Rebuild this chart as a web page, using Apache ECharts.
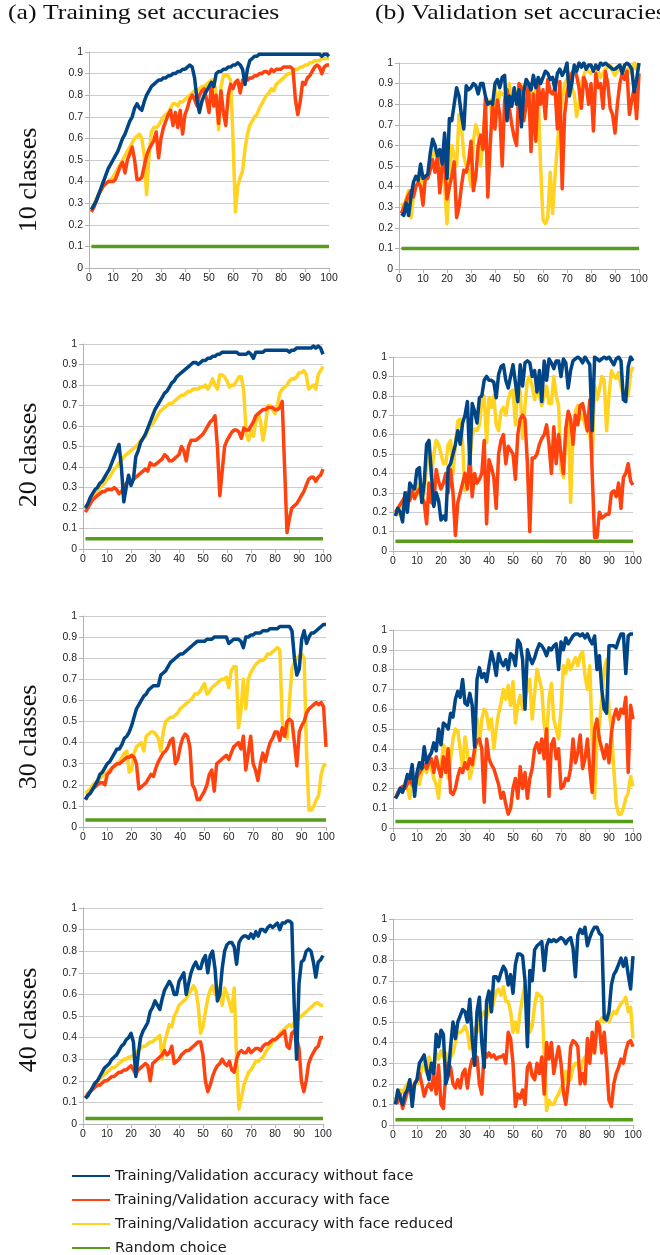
<!DOCTYPE html>
<html><head><meta charset="utf-8">
<script src="https://cdn.jsdelivr.net/npm/echarts@6/dist/echarts.min.js"></script>
<style>html,body{margin:0;padding:0;background:#fff}#c{width:660px;height:1255px}</style>
</head><body><div id="c"></div><script>
const epochs = Array.from({length:100},(_,i)=>i+1);
const xTicks = [0,10,20,30,40,50,60,70,80,90,100];
const seriesNames = ['Training/Validation accuracy without face','Training/Validation accuracy with face','Training/Validation accuracy with face reduced','Random choice'];
const columnTitles = ['(a) Training set accuracies','(b) Validation set accuracies'];
const rowLabels = ['10 classes','20 classes','30 classes','40 classes'];
const randomLevels = [0.1, 0.05, 0.033, 0.025];

const train10Blue = [0.27,0.29,0.31,0.34,0.37,0.40,0.43,0.46,0.48,0.50,0.52,0.54,0.57,0.60,0.62,0.65,0.68,0.70,0.74,0.76,0.74,0.73,0.77,0.80,0.82,0.84,0.85,0.86,0.87,0.87,0.88,0.88,0.89,0.89,0.90,0.90,0.91,0.91,0.92,0.92,0.93,0.94,0.93,0.88,0.78,0.72,0.77,0.80,0.82,0.84,0.86,0.84,0.90,0.91,0.91,0.92,0.92,0.93,0.93,0.94,0.94,0.95,0.94,0.92,0.85,0.92,0.96,0.97,0.98,0.98,0.99,0.99,0.99,0.99,0.99,0.99,0.99,0.99,0.99,0.99,0.99,0.99,0.99,0.99,0.99,0.99,0.99,0.99,0.99,0.99,0.99,0.99,0.99,0.99,0.99,0.99,0.98,0.99,0.99,0.98];
const train10Orange = [0.26,0.28,0.31,0.34,0.36,0.38,0.39,0.40,0.40,0.40,0.41,0.44,0.47,0.49,0.44,0.50,0.53,0.56,0.50,0.41,0.41,0.42,0.47,0.52,0.55,0.57,0.59,0.63,0.51,0.60,0.65,0.68,0.71,0.73,0.66,0.72,0.65,0.73,0.62,0.71,0.74,0.78,0.80,0.78,0.75,0.80,0.82,0.83,0.78,0.72,0.85,0.75,0.80,0.67,0.82,0.72,0.66,0.80,0.85,0.83,0.86,0.87,0.81,0.87,0.87,0.87,0.88,0.88,0.89,0.89,0.90,0.90,0.91,0.91,0.90,0.92,0.91,0.92,0.92,0.92,0.93,0.93,0.93,0.93,0.92,0.78,0.71,0.77,0.86,0.85,0.88,0.89,0.91,0.93,0.94,0.93,0.90,0.93,0.94,0.94];
const train10Yellow = [0.27,0.29,0.32,0.34,0.36,0.38,0.39,0.40,0.41,0.42,0.44,0.46,0.48,0.50,0.52,0.54,0.56,0.58,0.60,0.61,0.62,0.60,0.52,0.34,0.52,0.63,0.65,0.65,0.66,0.68,0.70,0.71,0.72,0.74,0.76,0.76,0.75,0.77,0.77,0.78,0.79,0.80,0.81,0.82,0.82,0.83,0.84,0.84,0.85,0.86,0.87,0.87,0.80,0.64,0.84,0.89,0.89,0.89,0.87,0.60,0.26,0.38,0.42,0.45,0.55,0.62,0.66,0.68,0.70,0.71,0.74,0.76,0.78,0.80,0.81,0.83,0.82,0.85,0.86,0.87,0.88,0.89,0.90,0.90,0.91,0.92,0.92,0.93,0.93,0.94,0.94,0.95,0.95,0.96,0.96,0.96,0.97,0.97,0.97,0.97];

const val10Blue = [0.27,0.26,0.32,0.26,0.35,0.42,0.45,0.43,0.51,0.44,0.45,0.46,0.56,0.63,0.60,0.55,0.58,0.51,0.66,0.44,0.73,0.72,0.80,0.88,0.84,0.75,0.68,0.89,0.87,0.88,0.90,0.89,0.85,0.90,0.90,0.84,0.80,0.81,0.80,0.90,0.92,0.88,0.93,0.94,0.72,0.84,0.79,0.88,0.80,0.87,0.69,0.86,0.92,0.90,0.87,0.94,0.88,0.93,0.90,0.93,0.96,0.95,0.92,0.93,0.87,0.95,0.97,0.94,0.96,1.00,0.84,0.90,0.99,0.96,1.00,0.98,1.00,0.97,0.99,0.99,0.96,0.99,0.97,1.00,0.99,1.00,0.99,0.98,0.97,0.97,0.98,0.99,0.95,0.99,1.00,0.99,0.97,0.86,0.92,1.00];
const val10Orange = [0.27,0.30,0.33,0.36,0.38,0.35,0.40,0.42,0.40,0.31,0.45,0.44,0.48,0.53,0.47,0.55,0.37,0.50,0.52,0.34,0.40,0.45,0.52,0.25,0.30,0.40,0.48,0.47,0.52,0.62,0.38,0.45,0.60,0.65,0.58,0.83,0.35,0.60,0.80,0.68,0.82,0.75,0.50,0.82,0.87,0.78,0.70,0.64,0.60,0.90,0.88,0.72,0.80,0.90,0.57,0.85,0.62,0.90,0.80,0.87,0.73,0.92,0.86,0.85,0.88,0.68,0.91,0.39,0.75,0.85,0.92,0.95,0.97,0.94,0.88,0.78,0.93,0.90,0.80,0.90,0.67,0.95,0.88,0.90,0.78,0.96,0.90,0.78,0.75,0.66,0.80,0.90,0.95,0.92,0.96,0.75,0.82,0.88,0.73,0.95];
const val10Yellow = [0.32,0.30,0.34,0.38,0.25,0.35,0.40,0.42,0.44,0.40,0.43,0.45,0.50,0.54,0.58,0.55,0.50,0.45,0.40,0.22,0.45,0.60,0.55,0.50,0.75,0.70,0.55,0.50,0.48,0.40,0.62,0.70,0.66,0.50,0.65,0.78,0.80,0.82,0.70,0.88,0.78,0.86,0.85,0.84,0.87,0.90,0.80,0.85,0.86,0.86,0.88,0.89,0.86,0.83,0.88,0.76,0.89,0.85,0.50,0.24,0.22,0.25,0.47,0.27,0.45,0.60,0.75,0.82,0.90,0.92,0.95,0.88,0.85,0.74,0.80,0.90,0.94,0.97,0.96,0.95,0.97,0.98,0.96,0.93,0.95,0.97,0.98,0.99,0.96,0.94,0.96,0.97,0.98,0.98,0.93,0.99,0.95,1.00,0.97,1.00];

const train20Blue = [0.20,0.22,0.25,0.27,0.29,0.30,0.32,0.33,0.35,0.37,0.39,0.42,0.45,0.48,0.51,0.40,0.23,0.30,0.36,0.31,0.34,0.45,0.48,0.52,0.54,0.56,0.59,0.62,0.65,0.68,0.70,0.72,0.74,0.76,0.77,0.79,0.81,0.82,0.84,0.85,0.86,0.87,0.88,0.89,0.90,0.91,0.91,0.90,0.91,0.92,0.92,0.93,0.93,0.94,0.94,0.95,0.95,0.96,0.96,0.96,0.96,0.96,0.96,0.96,0.95,0.95,0.95,0.95,0.96,0.95,0.93,0.96,0.96,0.96,0.96,0.97,0.97,0.97,0.97,0.97,0.97,0.97,0.97,0.97,0.97,0.96,0.97,0.97,0.98,0.98,0.98,0.98,0.98,0.98,0.98,0.99,0.98,0.99,0.98,0.95];
const train20Orange = [0.18,0.20,0.22,0.24,0.25,0.26,0.27,0.28,0.28,0.29,0.29,0.29,0.30,0.29,0.27,0.28,0.30,0.32,0.33,0.33,0.34,0.35,0.36,0.37,0.38,0.39,0.38,0.42,0.41,0.41,0.42,0.43,0.44,0.46,0.45,0.43,0.43,0.44,0.45,0.46,0.50,0.48,0.43,0.50,0.53,0.53,0.53,0.54,0.55,0.56,0.58,0.60,0.62,0.63,0.65,0.50,0.26,0.38,0.50,0.53,0.55,0.57,0.58,0.58,0.57,0.54,0.59,0.58,0.58,0.60,0.62,0.65,0.66,0.67,0.68,0.68,0.69,0.69,0.69,0.68,0.68,0.69,0.72,0.40,0.08,0.15,0.20,0.21,0.22,0.24,0.26,0.28,0.31,0.34,0.35,0.35,0.33,0.35,0.36,0.39];
const train20Yellow = [0.20,0.22,0.24,0.25,0.27,0.28,0.30,0.31,0.32,0.34,0.35,0.37,0.39,0.40,0.42,0.43,0.45,0.46,0.47,0.48,0.49,0.50,0.51,0.53,0.54,0.55,0.58,0.60,0.61,0.63,0.65,0.67,0.68,0.69,0.70,0.71,0.71,0.72,0.73,0.74,0.75,0.75,0.76,0.77,0.77,0.78,0.78,0.78,0.79,0.79,0.80,0.78,0.80,0.83,0.80,0.78,0.85,0.85,0.84,0.82,0.79,0.80,0.80,0.82,0.84,0.84,0.77,0.56,0.53,0.58,0.55,0.62,0.66,0.62,0.53,0.60,0.70,0.70,0.68,0.66,0.70,0.76,0.78,0.79,0.80,0.82,0.83,0.83,0.84,0.86,0.86,0.87,0.85,0.78,0.79,0.80,0.78,0.85,0.87,0.89];

const val20Blue = [0.18,0.22,0.20,0.15,0.30,0.20,0.35,0.33,0.32,0.42,0.43,0.25,0.35,0.55,0.57,0.40,0.23,0.30,0.26,0.16,0.18,0.16,0.43,0.45,0.50,0.55,0.62,0.55,0.66,0.70,0.77,0.45,0.76,0.72,0.66,0.79,0.80,0.88,0.90,0.88,0.88,0.87,0.79,0.91,0.95,0.96,0.88,0.84,0.90,0.96,0.87,0.77,0.96,0.85,0.97,0.98,0.97,0.90,0.93,0.82,0.93,0.77,0.98,0.88,0.99,0.97,0.94,0.98,0.98,0.90,0.99,0.97,0.84,0.93,0.98,0.99,1.00,0.99,0.97,1.00,0.98,0.96,0.62,1.00,0.99,0.98,0.99,1.00,0.99,1.00,0.98,0.96,0.99,1.00,0.98,0.78,0.77,0.95,1.00,0.98];
const val20Orange = [0.20,0.22,0.24,0.26,0.28,0.30,0.26,0.31,0.27,0.30,0.32,0.28,0.25,0.14,0.35,0.25,0.24,0.42,0.36,0.32,0.35,0.40,0.30,0.42,0.30,0.08,0.25,0.30,0.35,0.40,0.32,0.50,0.28,0.40,0.35,0.37,0.40,0.57,0.14,0.47,0.43,0.38,0.22,0.50,0.57,0.60,0.45,0.54,0.52,0.50,0.37,0.60,0.68,0.70,0.68,0.45,0.10,0.48,0.48,0.50,0.55,0.58,0.60,0.65,0.55,0.40,0.64,0.45,0.60,0.50,0.40,0.63,0.72,0.68,0.55,0.70,0.65,0.75,0.76,0.70,0.62,0.78,0.40,0.07,0.07,0.20,0.17,0.18,0.19,0.19,0.30,0.31,0.28,0.35,0.22,0.38,0.40,0.45,0.36,0.34];
const val20Yellow = [0.20,0.19,0.21,0.24,0.27,0.30,0.28,0.32,0.28,0.35,0.30,0.26,0.30,0.44,0.50,0.38,0.50,0.57,0.55,0.50,0.45,0.45,0.55,0.57,0.40,0.55,0.67,0.68,0.55,0.31,0.35,0.45,0.60,0.63,0.62,0.65,0.77,0.80,0.56,0.79,0.74,0.80,0.65,0.62,0.72,0.74,0.70,0.78,0.82,0.83,0.65,0.85,0.82,0.58,0.75,0.88,0.90,0.85,0.78,0.84,0.80,0.75,0.80,0.85,0.76,0.76,0.90,0.80,0.75,0.42,0.38,0.60,0.70,0.25,0.60,0.72,0.75,0.68,0.70,0.65,0.62,0.60,0.48,0.85,0.78,0.83,0.90,0.88,0.62,0.80,0.93,0.90,0.89,0.92,0.85,0.80,0.83,0.80,0.92,0.95];

const train30Blue = [0.13,0.15,0.16,0.18,0.20,0.22,0.25,0.26,0.28,0.30,0.31,0.33,0.35,0.37,0.37,0.39,0.42,0.43,0.45,0.48,0.52,0.56,0.58,0.60,0.62,0.63,0.65,0.66,0.67,0.67,0.67,0.72,0.73,0.74,0.76,0.78,0.79,0.80,0.81,0.82,0.82,0.83,0.84,0.85,0.86,0.87,0.88,0.88,0.88,0.88,0.89,0.89,0.89,0.90,0.90,0.90,0.90,0.90,0.90,0.87,0.88,0.89,0.89,0.89,0.88,0.85,0.90,0.90,0.91,0.91,0.92,0.92,0.92,0.93,0.93,0.93,0.94,0.94,0.94,0.94,0.95,0.95,0.95,0.95,0.95,0.93,0.80,0.72,0.75,0.89,0.93,0.87,0.90,0.92,0.92,0.93,0.94,0.95,0.96,0.96];
const train30Orange = [0.13,0.15,0.16,0.18,0.19,0.20,0.21,0.21,0.20,0.25,0.26,0.28,0.29,0.30,0.30,0.31,0.32,0.33,0.33,0.34,0.33,0.30,0.18,0.19,0.20,0.21,0.23,0.25,0.24,0.28,0.31,0.33,0.35,0.36,0.38,0.41,0.42,0.30,0.32,0.38,0.42,0.44,0.43,0.38,0.20,0.18,0.13,0.13,0.15,0.17,0.20,0.25,0.27,0.17,0.30,0.31,0.32,0.33,0.34,0.32,0.35,0.38,0.39,0.40,0.37,0.43,0.27,0.35,0.43,0.30,0.27,0.22,0.30,0.35,0.31,0.36,0.40,0.42,0.45,0.45,0.41,0.47,0.43,0.50,0.51,0.50,0.40,0.29,0.45,0.48,0.50,0.54,0.56,0.57,0.58,0.59,0.58,0.59,0.57,0.38];
const train30Yellow = [0.16,0.17,0.18,0.20,0.21,0.22,0.23,0.24,0.25,0.26,0.27,0.28,0.29,0.30,0.31,0.33,0.35,0.36,0.26,0.27,0.35,0.38,0.39,0.40,0.36,0.43,0.44,0.45,0.45,0.44,0.42,0.36,0.45,0.50,0.51,0.52,0.52,0.53,0.54,0.56,0.57,0.58,0.59,0.60,0.61,0.63,0.63,0.64,0.66,0.68,0.63,0.64,0.66,0.67,0.68,0.69,0.70,0.70,0.71,0.66,0.74,0.76,0.76,0.47,0.55,0.70,0.56,0.70,0.73,0.75,0.77,0.78,0.79,0.79,0.80,0.82,0.82,0.83,0.84,0.85,0.84,0.50,0.45,0.42,0.60,0.75,0.78,0.80,0.81,0.82,0.80,0.35,0.08,0.08,0.10,0.13,0.15,0.25,0.29,0.30];

const val30Blue = [0.15,0.17,0.20,0.18,0.22,0.27,0.25,0.32,0.16,0.28,0.33,0.30,0.41,0.33,0.36,0.38,0.43,0.39,0.50,0.42,0.53,0.52,0.50,0.58,0.56,0.65,0.69,0.66,0.75,0.63,0.62,0.68,0.62,0.41,0.75,0.81,0.76,0.78,0.74,0.82,0.89,0.84,0.77,0.88,0.84,0.82,0.85,0.80,0.88,0.87,0.82,0.95,0.93,0.85,0.60,0.90,0.86,0.83,0.86,0.90,0.93,0.92,0.90,0.87,0.91,0.90,0.92,0.93,0.80,0.94,0.90,0.96,0.93,0.95,0.97,0.98,0.98,0.97,0.98,0.96,0.98,0.95,0.93,0.97,0.80,0.87,0.70,0.60,0.58,0.92,0.92,0.92,0.91,0.95,0.98,0.98,0.78,0.97,0.98,0.98];
const val30Orange = [0.15,0.18,0.20,0.21,0.20,0.22,0.25,0.22,0.20,0.26,0.28,0.30,0.32,0.30,0.33,0.35,0.28,0.36,0.30,0.26,0.36,0.28,0.40,0.18,0.17,0.20,0.26,0.30,0.28,0.33,0.30,0.35,0.32,0.40,0.44,0.45,0.40,0.13,0.45,0.35,0.32,0.30,0.26,0.22,0.15,0.18,0.12,0.07,0.10,0.20,0.25,0.15,0.31,0.20,0.28,0.15,0.25,0.30,0.40,0.43,0.38,0.45,0.35,0.50,0.16,0.42,0.45,0.35,0.40,0.20,0.21,0.25,0.24,0.30,0.45,0.33,0.38,0.47,0.30,0.35,0.45,0.30,0.18,0.50,0.55,0.45,0.40,0.35,0.42,0.33,0.48,0.56,0.60,0.55,0.60,0.58,0.66,0.28,0.62,0.55];
const val30Yellow = [0.15,0.17,0.20,0.19,0.22,0.20,0.15,0.25,0.22,0.27,0.22,0.28,0.30,0.28,0.35,0.30,0.25,0.22,0.15,0.30,0.42,0.40,0.25,0.35,0.45,0.50,0.49,0.40,0.30,0.46,0.38,0.25,0.30,0.35,0.55,0.42,0.55,0.60,0.58,0.50,0.55,0.40,0.50,0.58,0.63,0.70,0.65,0.72,0.62,0.74,0.53,0.62,0.67,0.60,0.65,0.70,0.75,0.55,0.68,0.80,0.75,0.70,0.52,0.45,0.65,0.73,0.55,0.50,0.45,0.60,0.82,0.78,0.85,0.80,0.83,0.86,0.82,0.87,0.89,0.77,0.70,0.82,0.45,0.15,0.45,0.52,0.65,0.80,0.85,0.60,0.50,0.30,0.12,0.07,0.07,0.10,0.15,0.18,0.26,0.21];

const train40Blue = [0.12,0.13,0.15,0.17,0.19,0.20,0.22,0.24,0.26,0.27,0.28,0.30,0.31,0.32,0.34,0.36,0.37,0.39,0.40,0.42,0.38,0.22,0.32,0.40,0.43,0.45,0.47,0.52,0.54,0.57,0.55,0.53,0.58,0.62,0.64,0.66,0.64,0.60,0.60,0.66,0.68,0.70,0.60,0.65,0.70,0.73,0.75,0.72,0.72,0.76,0.78,0.70,0.78,0.80,0.72,0.57,0.60,0.72,0.80,0.83,0.84,0.84,0.82,0.74,0.84,0.86,0.87,0.87,0.86,0.88,0.86,0.89,0.87,0.90,0.90,0.89,0.91,0.92,0.91,0.92,0.93,0.90,0.93,0.93,0.94,0.94,0.93,0.55,0.30,0.65,0.75,0.76,0.80,0.81,0.80,0.75,0.68,0.75,0.76,0.78];
const train40Orange = [0.12,0.14,0.15,0.16,0.17,0.18,0.18,0.19,0.20,0.20,0.21,0.22,0.22,0.23,0.24,0.24,0.25,0.25,0.26,0.27,0.25,0.23,0.25,0.26,0.27,0.28,0.27,0.20,0.28,0.29,0.30,0.31,0.32,0.34,0.32,0.33,0.36,0.28,0.29,0.30,0.32,0.33,0.34,0.34,0.35,0.36,0.37,0.38,0.38,0.32,0.20,0.15,0.18,0.22,0.25,0.27,0.28,0.30,0.28,0.27,0.29,0.25,0.24,0.30,0.33,0.34,0.33,0.33,0.35,0.33,0.34,0.35,0.35,0.34,0.36,0.37,0.37,0.38,0.39,0.39,0.40,0.41,0.42,0.43,0.36,0.35,0.42,0.43,0.40,0.35,0.20,0.15,0.20,0.28,0.31,0.33,0.35,0.36,0.40,0.40];
const train40Yellow = [0.12,0.14,0.15,0.16,0.18,0.20,0.21,0.22,0.23,0.24,0.25,0.26,0.26,0.27,0.28,0.29,0.30,0.30,0.31,0.31,0.32,0.33,0.34,0.35,0.36,0.36,0.37,0.38,0.38,0.39,0.40,0.41,0.30,0.38,0.42,0.46,0.45,0.50,0.52,0.55,0.56,0.57,0.58,0.60,0.62,0.64,0.62,0.55,0.42,0.45,0.52,0.58,0.62,0.64,0.60,0.63,0.60,0.55,0.63,0.60,0.56,0.52,0.63,0.30,0.07,0.12,0.18,0.21,0.24,0.25,0.27,0.29,0.29,0.30,0.31,0.33,0.35,0.36,0.38,0.39,0.40,0.42,0.43,0.44,0.45,0.46,0.45,0.47,0.48,0.49,0.50,0.51,0.52,0.53,0.54,0.55,0.56,0.56,0.55,0.55];

const val40Blue = [0.10,0.17,0.13,0.10,0.15,0.17,0.22,0.09,0.20,0.22,0.30,0.32,0.34,0.27,0.22,0.30,0.25,0.44,0.38,0.46,0.44,0.20,0.24,0.38,0.50,0.42,0.50,0.53,0.56,0.55,0.50,0.61,0.42,0.29,0.55,0.62,0.40,0.28,0.60,0.65,0.55,0.72,0.72,0.70,0.74,0.77,0.75,0.68,0.73,0.64,0.78,0.83,0.83,0.82,0.70,0.38,0.75,0.70,0.85,0.87,0.88,0.89,0.75,0.87,0.90,0.89,0.90,0.89,0.90,0.91,0.90,0.88,0.90,0.91,0.86,0.72,0.92,0.95,0.93,0.96,0.87,0.91,0.94,0.96,0.96,0.93,0.92,0.52,0.51,0.55,0.68,0.73,0.75,0.78,0.81,0.77,0.81,0.73,0.66,0.82];
const val40Orange = [0.12,0.11,0.15,0.08,0.12,0.16,0.18,0.17,0.20,0.22,0.25,0.20,0.14,0.18,0.20,0.17,0.25,0.15,0.29,0.10,0.08,0.25,0.30,0.28,0.20,0.18,0.22,0.18,0.25,0.27,0.18,0.27,0.32,0.30,0.33,0.20,0.15,0.36,0.33,0.35,0.33,0.34,0.32,0.33,0.33,0.34,0.30,0.45,0.42,0.30,0.09,0.15,0.13,0.17,0.10,0.28,0.30,0.24,0.22,0.30,0.25,0.33,0.15,0.40,0.32,0.40,0.25,0.32,0.38,0.30,0.16,0.10,0.20,0.38,0.41,0.40,0.38,0.20,0.25,0.20,0.42,0.30,0.45,0.35,0.50,0.48,0.35,0.45,0.30,0.12,0.09,0.20,0.25,0.28,0.32,0.30,0.36,0.40,0.41,0.38];
const val40Yellow = [0.12,0.15,0.17,0.16,0.18,0.20,0.21,0.16,0.20,0.20,0.22,0.28,0.30,0.25,0.33,0.30,0.28,0.35,0.32,0.36,0.33,0.35,0.28,0.33,0.35,0.40,0.45,0.45,0.46,0.48,0.45,0.37,0.44,0.47,0.45,0.50,0.53,0.55,0.52,0.57,0.55,0.60,0.65,0.66,0.63,0.67,0.60,0.60,0.55,0.45,0.50,0.45,0.55,0.62,0.68,0.55,0.45,0.48,0.58,0.64,0.63,0.62,0.35,0.07,0.12,0.10,0.10,0.13,0.15,0.18,0.20,0.26,0.21,0.22,0.28,0.30,0.30,0.25,0.31,0.33,0.32,0.40,0.35,0.38,0.45,0.50,0.52,0.50,0.52,0.50,0.53,0.55,0.54,0.57,0.59,0.60,0.62,0.55,0.57,0.42];

// layout (plot-area boxes in px)
const panelBoxes = [
  {left:89, top:52,  width:240, height:216},
  {left:399,top:63,  width:240, height:206},
  {left:83, top:344, width:240, height:205},
  {left:393,top:357, width:240, height:194},
  {left:83, top:616, width:243, height:211},
  {left:393,top:630, width:240, height:198},
  {left:83, top:908, width:240, height:216},
  {left:393,top:919, width:240, height:206}
];
const panelData = [
  [train10Blue, train10Orange, train10Yellow],
  [val10Blue, val10Orange, val10Yellow],
  [train20Blue, train20Orange, train20Yellow],
  [val20Blue, val20Orange, val20Yellow],
  [train30Blue, train30Orange, train30Yellow],
  [val30Blue, val30Orange, val30Yellow],
  [train40Blue, train40Orange, train40Yellow],
  [val40Blue, val40Orange, val40Yellow]
];
const colors = ['#004586','#ff420e','#ffd320','#579d1c'];
const axisGray = '#b3b3b3';
const labelFont = {fontFamily:'Liberation Sans', fontSize:10.5, color:'#222'};

const grids=[], xAxes=[], yAxes=[], series=[];
panelData.forEach((sets, p) => {
  grids.push(Object.assign({containLabel:false}, panelBoxes[p]));
  xAxes.push({type:'value', gridIndex:p, min:0, max:100, interval:10,
    axisLine:{show:true, lineStyle:{color:axisGray}}, axisTick:{show:true, length:4, lineStyle:{color:axisGray}},
    splitLine:{show:false}, axisLabel:Object.assign({margin:5}, labelFont)});
  yAxes.push({type:'value', gridIndex:p, min:0, max:1, interval:0.1,
    axisLine:{show:true, lineStyle:{color:axisGray}}, axisTick:{show:true, length:4, lineStyle:{color:axisGray}},
    splitLine:{show:true, lineStyle:{color:'#cccccc', width:1}}, axisLabel:Object.assign({margin:6}, labelFont)});
  const lvl = randomLevels[Math.floor(p/2)];
  series.push({name:seriesNames[3], type:'line', xAxisIndex:p, yAxisIndex:p, showSymbol:false, symbol:'none',
    data:[[epochs[0], lvl],[epochs[epochs.length-1], lvl]], lineStyle:{color:colors[3], width:3.5}, itemStyle:{color:colors[3]}, z:2});
  [2,1,0].forEach(k => {
    series.push({name:seriesNames[k], type:'line', xAxisIndex:p, yAxisIndex:p, showSymbol:false, symbol:'none',
      data: sets[k].map((v,i)=>[epochs[i], v]), lineStyle:{color:colors[k], width:3.5, join:'round'}, itemStyle:{color:colors[k]}, z:3+(2-k)});
  });
});

const graphics = [];
columnTitles.forEach((t,i)=>{
  graphics.push({type:'text', left: i===0 ? 8 : 375, top: 2, scaleX:1.17, originX:0,
    style:{text:t, font:'22px "Liberation Serif"', fill:'#111'}});
});
const rowCenters = [180, 455, 737, 1020];
rowLabels.forEach((t,i)=>{
  graphics.push({type:'text', x:29, y:rowCenters[i], rotation:Math.PI/2,
    style:{text:t, font:'26px "Liberation Serif"', fill:'#111', align:'center', verticalAlign:'middle'}});
});

const chart = echarts.init(document.getElementById('c'), null, {renderer:'canvas'});
chart.setOption({
  animation:false,
  backgroundColor:'#ffffff',
  grid:grids, xAxis:xAxes, yAxis:yAxes, series:series,
  legend:{data:seriesNames, orient:'vertical', left:72, top:1168, height:110, icon:'rect', itemWidth:38, itemHeight:2, itemGap:8, padding:0,
    textStyle:{fontFamily:'DejaVu Sans', fontSize:14.5, color:'#1a1a1a', lineHeight:16}, selectedMode:false},
  graphic:graphics
});
</script></body></html>
